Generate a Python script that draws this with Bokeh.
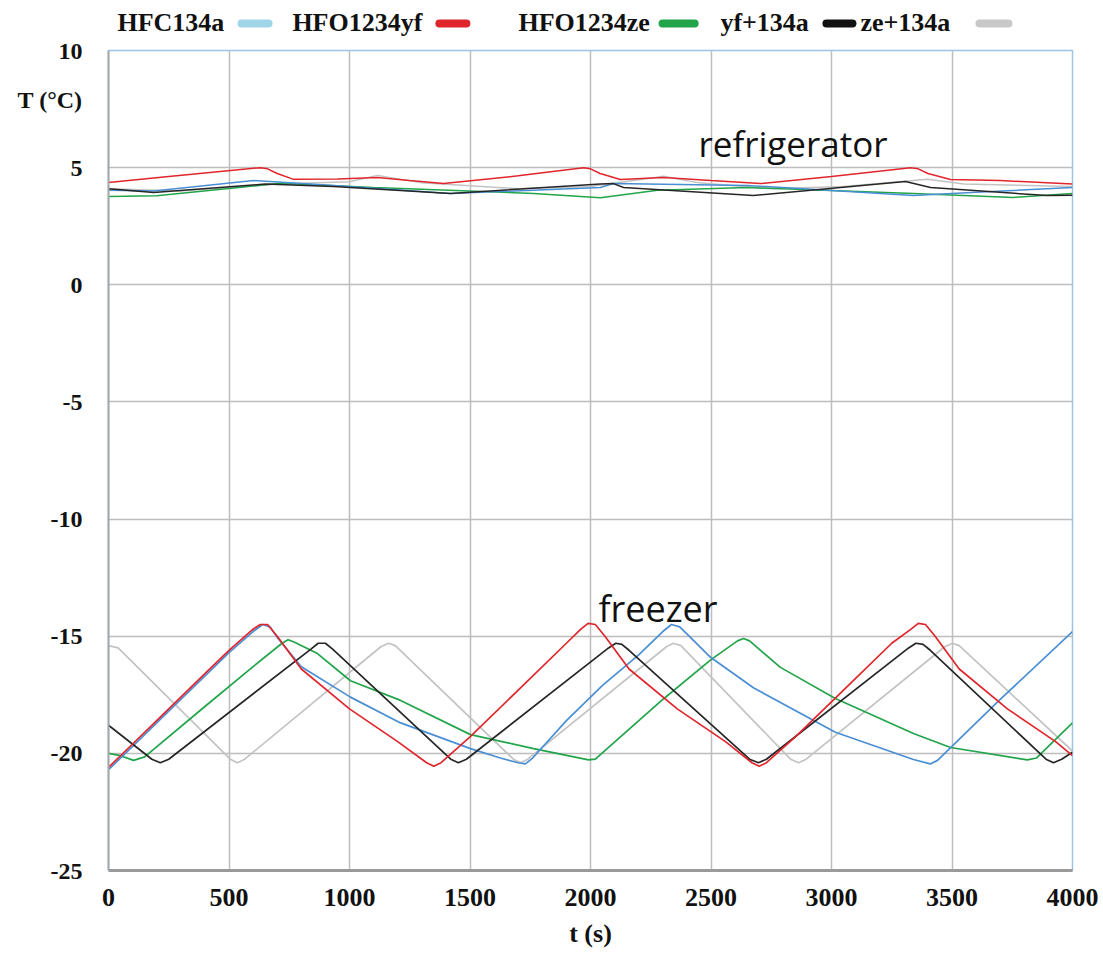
from bokeh.plotting import figure
from bokeh.models import Label, FixedTicker
from bokeh.layouts import column
from bokeh.core.properties import value
from bokeh.embed import file_html
from bokeh.resources import INLINE

# ---------------- data ----------------
series_names = ["HFC134a", "HFO1234yf", "HFO1234ze", "yf+134a", "ze+134a"]
line_colors = ["#4a8fd3", "#e0262c", "#22a44a", "#262626", "#c3c3c3"]
legend_colors = ["#9fd5e8", "#e0262c", "#22a44a", "#111111", "#c8c8c8"]

x_ticks = [0, 500, 1000, 1500, 2000, 2500, 3000, 3500, 4000]
x_tick_labels = ["0", "500", "1000", "1500", "2000", "2500", "3000", "3500", "4000"]
y_ticks = [-25, -20, -15, -10, -5, 0, 5, 10]
y_tick_labels = ["-25", "-20", "-15", "-10", "-5", "0", "5", "10"]
y_title = "T (°C)"
x_title = "t (s)"

# freezer temperatures
hfc134a_fx = [0, 100, 300, 500, 600, 640, 670, 700, 800, 1004, 1212, 1502, 1626, 1700, 1730, 1760,
              1900, 2050, 2200, 2300, 2336, 2370, 2400, 2498, 2676, 3016, 3340, 3410, 3440, 3700, 4000]
hfc134a_fy = [-20.7, -19.7, -17.7, -15.7, -14.8, -14.5, -14.6, -15.05, -16.3, -17.6, -18.7, -19.8, -20.2, -20.4, -20.45, -20.2,
              -18.6, -17.1, -15.8, -14.8, -14.5, -14.6, -14.9, -15.9, -17.2, -19.1, -20.26, -20.45, -20.3, -17.7, -14.8]

hfo1234yf_fx = [0, 100, 200, 300, 400, 500, 600, 630, 660, 700, 800, 1000, 1200, 1320, 1350, 1380, 1500, 1700,
                1900, 1960, 1990, 2020, 2060, 2160, 2360, 2560, 2670, 2700, 2730, 2850, 3050, 3250, 3330, 3360,
                3390, 3430, 3530, 3730, 3930, 4000]
hfo1234yf_fy = [-20.6, -19.6, -18.6, -17.6, -16.6, -15.6, -14.7, -14.5, -14.5, -15.0, -16.4, -18.1, -19.5, -20.4, -20.55, -20.4, -19.3, -17.3,
                -15.3, -14.7, -14.45, -14.5, -15.0, -16.4, -18.1, -19.5, -20.4, -20.55, -20.4, -19.3, -17.3, -15.3, -14.7, -14.45,
                -14.5, -15.0, -16.4, -18.1, -19.5, -20.1]

hfo1234ze_fx = [0, 50, 104, 150, 400, 600, 720, 745, 770, 867, 1004, 1212, 1502, 1764, 1992, 2020,
                2300, 2500, 2610, 2635, 2660, 2788, 3016, 3340, 3494, 3813, 3850, 4000]
hfo1234ze_fy = [-20.0, -20.1, -20.3, -20.15, -18.0, -16.3, -15.3, -15.15, -15.25, -15.74, -16.9, -17.74, -19.2, -19.8, -20.28, -20.25,
                -17.7, -16.0, -15.2, -15.1, -15.2, -16.33, -17.66, -19.15, -19.75, -20.28, -20.2, -18.7]

yf134a_fx = [0, 180, 215, 250, 840, 870, 900, 930, 1420, 1452, 1485, 2075, 2105, 2130, 2160,
             2660, 2697, 2730, 3320, 3350, 3380, 3410, 3890, 3921, 3955, 4000]
yf134a_fy = [-18.8, -20.25, -20.4, -20.25, -15.55, -15.3, -15.3, -15.55, -20.25, -20.4, -20.25, -15.5, -15.3, -15.35, -15.6,
             -20.25, -20.4, -20.25, -15.5, -15.3, -15.35, -15.6, -20.25, -20.4, -20.25, -19.95]

ze134a_fx = [0, 40, 505, 535, 565, 1130, 1162, 1190, 1680, 1710, 1740, 2315, 2344, 2375,
             2830, 2863, 2895, 3470, 3502, 3530, 4000]
ze134a_fy = [-15.4, -15.5, -20.25, -20.4, -20.25, -15.45, -15.3, -15.4, -20.25, -20.4, -20.25, -15.45, -15.3, -15.4,
             -20.25, -20.4, -20.25, -15.45, -15.3, -15.4, -19.9]

# refrigerator temperatures
hfc134a_rx = [0, 188, 602, 934, 1419, 2041, 2095, 2650, 3340, 3600, 4000]
hfc134a_ry = [4.03, 4.0, 4.45, 4.24, 3.9, 4.15, 4.32, 4.24, 3.81, 3.95, 4.15]

hfo1234yf_rx = [0, 250, 506, 631, 660, 700, 768, 950, 1116, 1250, 1390, 1700, 1971, 2000, 2040, 2124,
                2303, 2500, 2705, 3000, 3328, 3360, 3400, 3494, 3700, 4000]
hfo1234yf_ry = [4.37, 4.62, 4.88, 5.0, 4.95, 4.75, 4.5, 4.52, 4.58, 4.45, 4.32, 4.65, 5.0, 4.95, 4.75, 4.49,
                4.58, 4.45, 4.32, 4.62, 5.0, 4.95, 4.75, 4.49, 4.45, 4.3]

hfo1234ze_rx = [0, 200, 714, 1100, 1764, 2041, 2278, 2651, 3340, 3755, 4000]
hfo1234ze_ry = [3.77, 3.8, 4.33, 4.15, 3.9, 3.72, 4.03, 4.15, 3.9, 3.73, 3.9]

yf134a_rx = [0, 188, 650, 934, 1419, 2041, 2095, 2137, 2676, 3307, 3411, 3896, 4000]
yf134a_ry = [4.1, 3.94, 4.3, 4.2, 3.9, 4.3, 4.32, 4.15, 3.81, 4.41, 4.15, 3.81, 3.82]

ze134a_rx = [0, 300, 700, 1000, 1116, 1300, 1700, 2000, 2303, 2450, 2750, 3050, 3400, 3550, 4000]
ze134a_ry = [4.1, 4.0, 4.3, 4.4, 4.67, 4.35, 4.1, 4.2, 4.63, 4.35, 4.1, 4.2, 4.5, 4.3, 4.2]

freezer_x = [hfc134a_fx, hfo1234yf_fx, hfo1234ze_fx, yf134a_fx, ze134a_fx]
freezer_y = [hfc134a_fy, hfo1234yf_fy, hfo1234ze_fy, yf134a_fy, ze134a_fy]
fridge_x = [hfc134a_rx, hfo1234yf_rx, hfo1234ze_rx, yf134a_rx, ze134a_rx]
fridge_y = [hfc134a_ry, hfo1234yf_ry, hfo1234ze_ry, yf134a_ry, ze134a_ry]

SERIF = "Liberation Serif"
W = 1100
LEG_H = 38

# ---------------- legend strip (label first, then swatch) ----------------
# its frame is aligned with the chart frame below, so it shares the t axis units
leg = figure(width=W, height=LEG_H, x_range=(0, 4000), y_range=(0, LEG_H),
             output_backend="svg", toolbar_location=None,
             min_border_left=108, min_border_right=W - 1072,
             min_border_top=0, min_border_bottom=0)
leg.axis.visible = False
leg.grid.visible = False
leg.outline_line_color = None
leg.background_fill_color = "white"
leg.border_fill_color = "white"
legend_text_x = [37, 763, 1701, 2539, 3120]
swatch_x0 = [552, 1373, 2299, 2979, 3614]
swatch_x1 = [664, 1485, 2432, 3087, 3734]
leg_y = LEG_H - 22
leg.text(x=legend_text_x, y=[leg_y] * 5, text=series_names,
         text_font=value(SERIF), text_font_style="bold", text_font_size="26px",
         text_baseline="middle", text_align="left", text_color="#111111")
leg.segment(x0=swatch_x0, y0=[leg_y - 1] * 5, x1=swatch_x1, y1=[leg_y - 1] * 5,
            line_color=legend_colors, line_width=8, line_cap="round")

# ---------------- main chart ----------------
p = figure(width=W, height=950 - LEG_H, x_range=(0, 4000), y_range=(-25, 10),
           output_backend="svg", toolbar_location=None,
           min_border_left=108, min_border_right=W - 1072, min_border_top=50 - LEG_H,
           min_border_bottom=80)
p.background_fill_color = "white"
p.border_fill_color = "white"
p.outline_line_color = "#9dc3e6"
p.outline_line_width = 1.5

y_title_pos = 7.9
p.xaxis.ticker = FixedTicker(ticks=x_ticks)
p.yaxis.ticker = FixedTicker(ticks=y_ticks + [y_title_pos])
p.xaxis.major_label_overrides = dict(zip(x_ticks, x_tick_labels))
y_over = dict(zip(y_ticks, y_tick_labels))
y_over[y_title_pos] = y_title
p.yaxis.major_label_overrides = y_over
p.xgrid.ticker = FixedTicker(ticks=x_ticks)
p.ygrid.ticker = FixedTicker(ticks=y_ticks)
for ax in (p.xaxis, p.yaxis):
    ax.major_tick_line_color = None
    ax.minor_tick_line_color = None
    ax.major_label_text_font = SERIF
    ax.major_label_text_font_style = "bold"
    ax.major_label_text_color = "#111111"
p.xaxis.major_label_text_font_size = "26px"
p.yaxis.major_label_text_font_size = "24px"
p.xaxis.major_label_standoff = 12
p.yaxis.major_label_standoff = 20
p.xaxis.axis_line_color = "#9a9a9a"
p.xaxis.axis_line_width = 3
p.yaxis.axis_line_color = "#a8a8a8"
p.yaxis.axis_line_width = 2
p.xaxis.axis_label = x_title
p.xaxis.axis_label_text_font = SERIF
p.xaxis.axis_label_text_font_style = "bold"
p.xaxis.axis_label_text_font_size = "26px"
p.xaxis.axis_label_text_color = "#111111"
p.xaxis.axis_label_standoff = 10

p.xgrid.grid_line_color = "#bdbdbd"
p.ygrid.grid_line_color = "#bdbdbd"
p.xgrid.grid_line_width = 1.5
p.ygrid.grid_line_width = 1.5

order = [4, 2, 0, 3, 1]
for i in order:
    p.line(freezer_x[i], freezer_y[i], line_color=line_colors[i], line_width=1.7)
for i in order:
    p.line(fridge_x[i], fridge_y[i], line_color=line_colors[i], line_width=1.5)

# in-plot annotations
p.add_layout(Label(x=2448, y=6.03, text="refrigerator", text_font="Open Sans",
                   text_font_size="35px", text_color="#111111", text_baseline="alphabetic"))
p.add_layout(Label(x=2033, y=-13.82, text="freezer", text_font="Open Sans",
                   text_font_size="36px", text_color="#111111", text_baseline="alphabetic"))

layout = column(leg, p, spacing=0)
open("out.html", "w").write(file_html(layout, INLINE))
